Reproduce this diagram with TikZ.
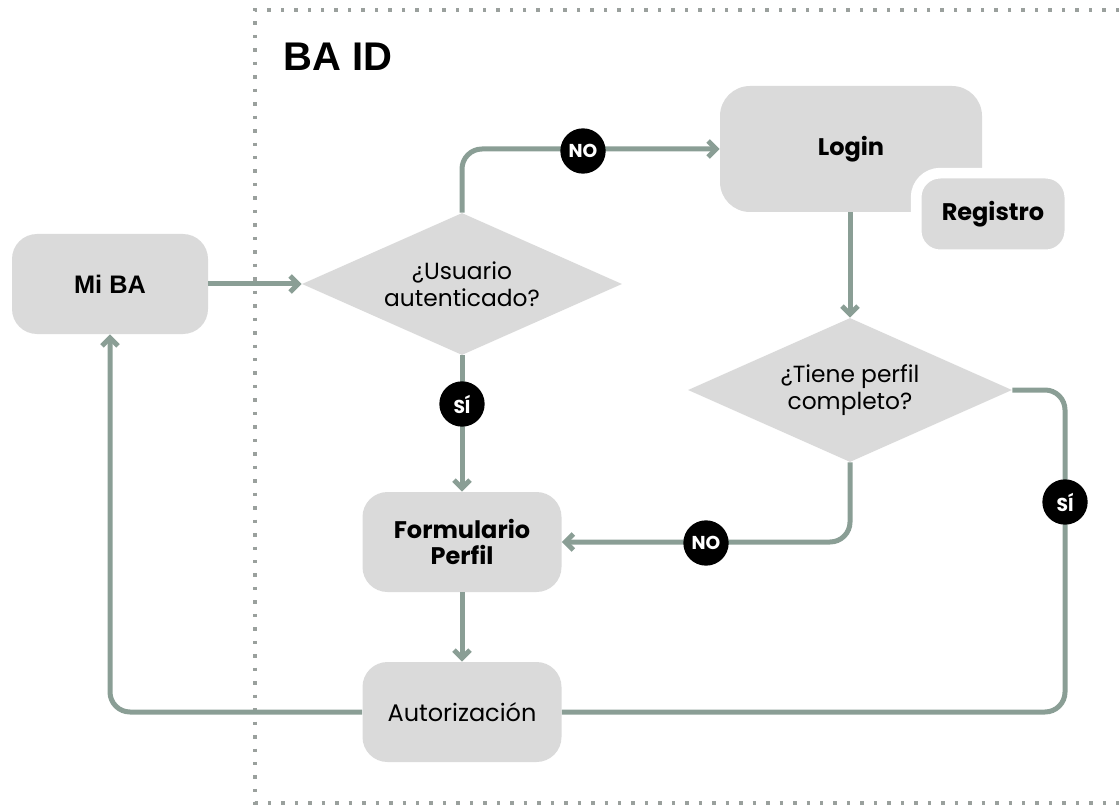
\documentclass[tikz,border=0pt]{standalone}
\usepackage{fontspec}
\setmainfont{Poppins}
\newfontfamily\arialf{Liberation Sans}
\usetikzlibrary{shapes.geometric,arrows.meta}
\definecolor{boxgray}{HTML}{DADADA}
\definecolor{linegray}{HTML}{8A9E95}
\definecolor{dotgray}{HTML}{9AA09D}
\begin{document}
\begin{tikzpicture}[x=0.75pt,y=-0.75pt,
  box/.style={fill=boxgray, rounded corners=18.75pt, inner sep=0pt, align=center,
    minimum width=149.25pt, minimum height=75pt},
  dia/.style={diamond, shape aspect=2.25, fill=boxgray, inner sep=0pt, align=center,
    font=\fontsize{17.5}{20}\selectfont},
  conn/.style={draw=linegray, line width=3.75pt, rounded corners=15pt},
  arr/.style={conn, -{Straight Barb[length=6pt,width=12pt]}},
  badge/.style={circle, fill=black, text=white, inner sep=0pt, minimum size=34pt,
    font=\fontsize{14}{16}\selectfont\bfseries},
  bold/.style={font=\fontsize{18}{20}\selectfont\bfseries},
  reg/.style={font=\fontsize{18}{20}\selectfont}
]
\useasboundingbox (0,0) rectangle (1119,805);
% frame
\draw[dotgray, line width=2.6pt, dash pattern=on 2.6pt off 7.5pt]
  (1119,10) -- (255,10) -- (255,803) -- (1119,803);
\node[anchor=west, font=\arialf\fontsize{30}{36}\selectfont\bfseries] (title) at (279,57) {BA ID};
% nodes
\node[box, minimum width=147pt, font=\arialf\fontsize{19}{22}\selectfont\bfseries] (miba) at (110,284) {Mi BA};
\node[dia, minimum width=240pt, minimum height=106.5pt] (d1) at (462,284) {¿Usuario\\autenticado?};
\node[box, bold, minimum width=196.5pt, minimum height=94.5pt, rounded corners=22.5pt] (login) at (851,149) {Login};
\node[box, bold, minimum width=115.25pt, minimum height=61.25pt, rounded corners=18pt,
  draw=white, line width=8pt] (reg) at (993,214) {Registro};
\node[dia, minimum width=243pt, minimum height=108pt] (d2) at (850,390) {¿Tiene perfil\\completo?};
\node[box, bold] (form) at (462,542) {Formulario\\Perfil};
\node[box, reg] (auth) at (462,712) {Autorización};
% connectors
\draw[arr] (miba.east) -- (d1.west);
\draw[arr] (d1.north) |- (login.west);
\draw[arr] (d1.south) -- (form.north);
\draw[arr] (login.south -| d2.north) -- (d2.north);
\draw[arr] (d2.south) |- (form.east);
\coordinate (rt) at (1065,712);
\draw[conn] (d2.east) -| (rt) -- (auth.east);
\draw[arr] (form.south) -- (auth.north);
\draw[arr] (auth.west) -| (miba.south);
% badges
\node[badge] (b1) at (583,151) {NO};
\node[badge] (b2) at (462,404) {SÍ};
\node[badge] (b3) at (706,543) {NO};
\node[badge] (b4) at (1065,502) {SÍ};
\end{tikzpicture}
\end{document}
